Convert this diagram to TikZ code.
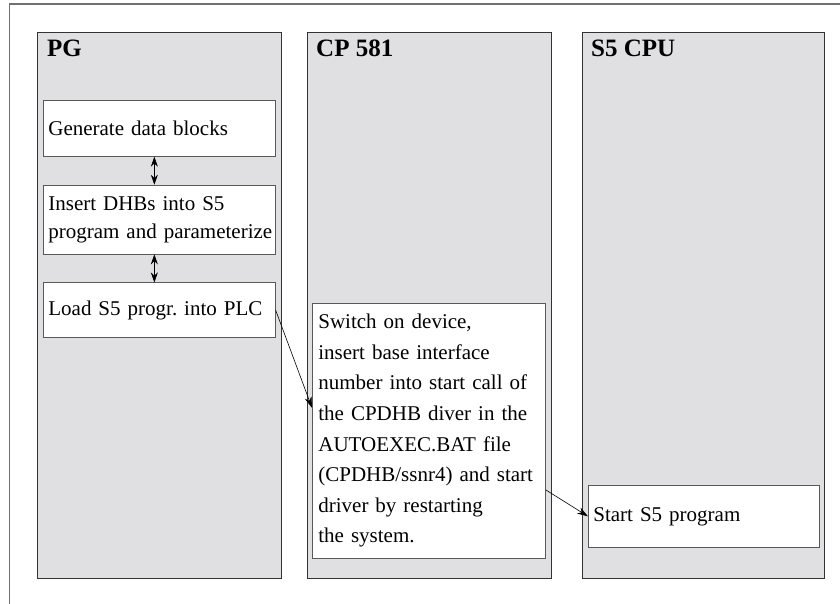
\documentclass[tikz,border=0pt]{standalone}
\usepackage{fontspec}
\setmainfont{Liberation Serif}
\usepackage{xcolor}
\usetikzlibrary{positioning,calc,arrows.meta}
\definecolor{lanegray}{RGB}{224,224,226}
\definecolor{framegray}{RGB}{112,112,112}
\frenchspacing

\begin{document}
\begin{tikzpicture}[
    x=1pt, y=-1pt,
    node distance=28pt,
    lane/.style={rectangle, draw=black!80, fill=lanegray, line width=0.8pt, anchor=north west, minimum width=244pt, minimum height=546pt},
    lanetitle/.style={anchor=base west, inner sep=0pt, font=\fontsize{25}{30}\selectfont\bfseries},
    stepbox/.style={rectangle, draw=black!65, fill=white, line width=0.7pt, minimum width=232pt, text width=222pt, inner xsep=5pt, align=left, font=\fontsize{21}{28}\selectfont},
    arrow/.style={-{Stealth[length=11pt,width=7pt]}, line width=0.6pt},
    dblarrow/.style={{Stealth[length=10pt,width=7pt]}-{Stealth[length=10pt,width=7pt]}, line width=0.6pt}
]
\useasboundingbox (0,0) rectangle (840,604);

% Frame
\draw[framegray, line width=1.3pt] (840,4) -- (9.5,4) -- (9.5,604);

% Lanes
\node (pg) [lane] at (37,32) {};
\node (cp) [lane] at (307,32) {};
\node (cpu) [lane, minimum width=242pt] at (582,32) {};

\node (pgtitle) [lanetitle] at ($(pg.north west)+(10,25)$) {PG};
\node (cptitle) [lanetitle] at ($(cp.north west)+(9,25)$) {CP 581};
\node (cputitle) [lanetitle] at ($(cpu.north west)+(9,25)$) {S5 CPU};

% PG steps
\node (gen) [stepbox, anchor=north west, minimum height=56pt] at (43,100) {Generate data blocks};
\node (ins) [stepbox, below=of gen, minimum height=69pt] {Insert DHBs into S5\\\mbox{program and parameterize}};
\node (load) [stepbox, below=of ins, minimum height=55pt] {Load S5 progr. into PLC};

% CP 581 step
\node (drv) [stepbox, anchor=north west, minimum width=233pt, text width=221pt, inner xsep=6pt, minimum height=255pt, font=\fontsize{21}{30.6}\selectfont] at (312,303) {Switch on device,\\insert base interface\\number into start call of\\the CPDHB diver in the\\AUTOEXEC.BAT file\\(CPDHB/ssnr4) and start\\driver by restarting\\the system.};

% S5 CPU step
\node (start) [stepbox, anchor=north west, minimum width=231pt, text width=221pt, minimum height=62pt] at (588,485) {Start S5 program};

% Arrows
\draw [dblarrow] ([xshift=-5pt]gen.south) -- ([xshift=-5pt]ins.north);
\draw [dblarrow] ([xshift=-5pt]ins.south) -- ([xshift=-5pt]load.north);
\draw [arrow] (load.east) -- ([yshift=23pt]drv.west);
\draw [arrow] ([yshift=-59pt]drv.east) -- (start.west);

\end{tikzpicture}
\end{document}
